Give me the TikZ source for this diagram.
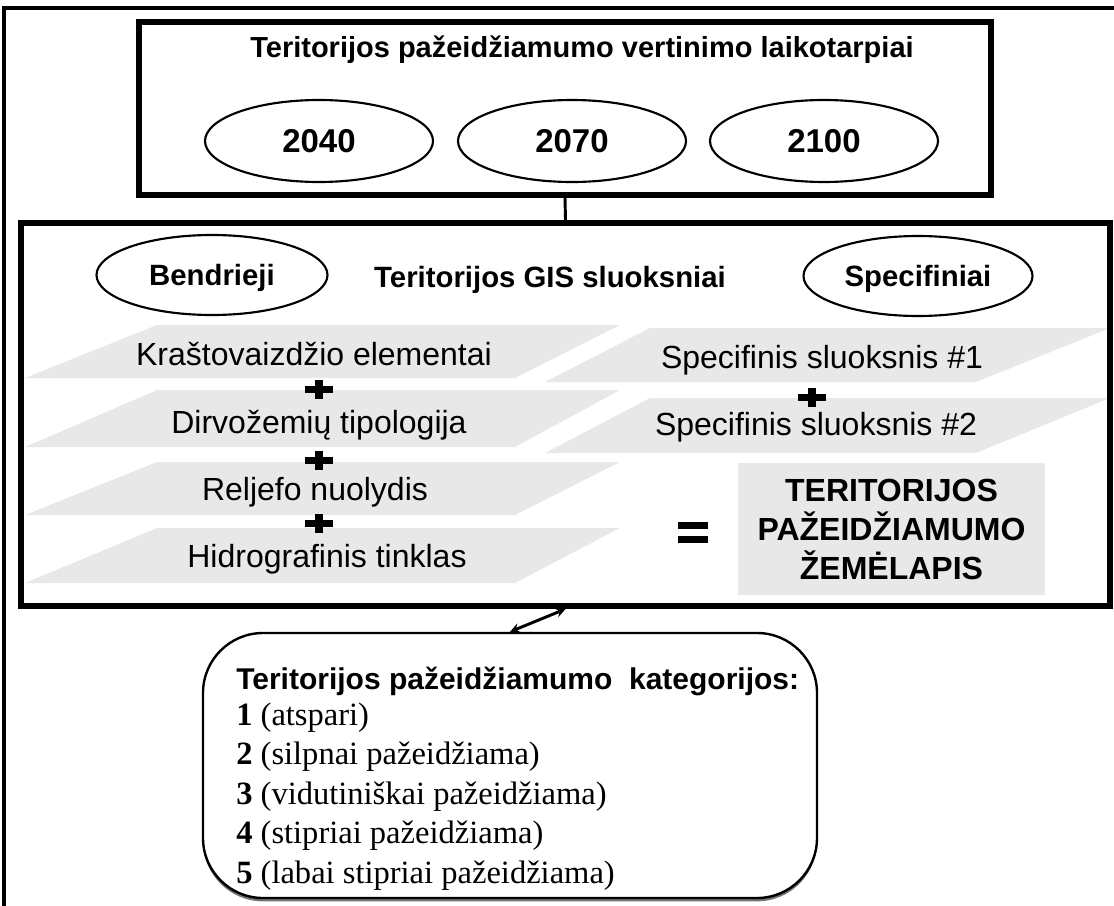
\documentclass[tikz,border=0pt]{standalone}
\usepackage{fontspec}
\setmainfont{Liberation Serif}
\setsansfont{Liberation Sans}
\usetikzlibrary{shapes.geometric,shadows}

\begin{document}
\begin{tikzpicture}[
  x=0.75pt, y=-0.75pt,
  font=\sffamily,
  outerline/.style={line width=2.4pt},
  bigbox/.style={rectangle, draw, line width=4.5pt},
  oval/.style={ellipse, draw, line width=1.6pt, inner sep=0pt, minimum width=171pt, minimum height=61.5pt, font=\sffamily\bfseries\fontsize{24.75pt}{28pt}\selectfont},
  smalloval/.style={oval, text depth=0pt, minimum height=60pt, font=\sffamily\bfseries\fontsize{22pt}{26pt}\selectfont},
  headtxt/.style={font=\sffamily\bfseries\fontsize{22pt}{26pt}\selectfont, inner sep=0pt, anchor=base},
  lbl/.style={font=\sffamily\fontsize{24pt}{28pt}\selectfont, inner sep=0pt, anchor=base},
  sheet/.style={fill=black!9},
  result/.style={rectangle, fill=black!9, minimum width=230.25pt, minimum height=99pt, align=center, font=\sffamily\bfseries\fontsize{24pt}{29.25pt}\selectfont},
  catbox/.style={rectangle, draw, rounded corners=45pt, line width=1.8pt, fill=white, minimum width=460.5pt, minimum height=198.75pt, drop shadow={shadow xshift=0pt, shadow yshift=-2.5pt, fill=black!55, opacity=1}}
]
\useasboundingbox (0,0) rectangle (1114,906);
\draw[outerline] (4,906) -- (4,8) -- (1114,8);

\node[bigbox, minimum width=639pt, minimum height=129.75pt] (periods) at (565,108.5) {};
\node[headtxt, font=\sffamily\bfseries\fontsize{21.75pt}{26pt}\selectfont] (ptitle) at (582,58) {Teritorijos pažeidžiamumo vertinimo laikotarpiai};
\node[oval] (y2040) at (319,141) {2040};
\node[oval] (y2070) at (572,141) {2070};
\node[oval] (y2100) at (824,141) {2100};

\foreach \t/\b in {325/378, 390/447, 462/515, 528/583}
  \fill[sheet] (25,\b) -- (157,\t) -- (620,\t) -- (515,\b) -- cycle;
\foreach \t/\b in {328/382, 398/453}
  \fill[sheet] (545,\b) -- (650,\t) -- (1110,\t) -- (976,\b) -- cycle;

\node[bigbox, minimum width=816.75pt, minimum height=287.25pt] (gis) at (565.5,414.5) {};
\node[smalloval, minimum width=173.25pt] (general) at (212,275) {Bendrieji};
\node[headtxt] (gistitle) at (550,287) {Teritorijos GIS sluoksniai};
\node[smalloval, minimum width=171.75pt] (specific) at (918,276) {Specifiniai};

\node[lbl] (landscape) at (314,365) {Kraštovaizdžio elementai};
\node[lbl] (soil) at (319,433) {Dirvožemių tipologija};
\node[lbl] (slope) at (315,500) {Reljefo nuolydis};
\node[lbl] (hydro) at (327,567) {Hidrografinis tinklas};
\node[lbl] (spec1) at (822,368) {Specifinis sluoksnis \#1};
\node[lbl] (spec2) at (816,435) {Specifinis sluoksnis \#2};

\foreach \px/\py in {319/389, 319/460, 319/523, 812/397} {
  \fill (\px-14,\py-3.5) rectangle (\px+14,\py+3.5);
  \fill (\px-4,\py-9.5) rectangle (\px+4,\py+9.5);
}
\fill (678,522) rectangle (708,529);
\fill (678,536) rectangle (708,543);

\node[result] (result) at (891.5,529) {TERITORIJOS\\PAŽEIDŽIAMUMO\\ŽEMĖLAPIS};

\draw[line width=2.2pt] (periods.south) -- (gis.north);

\node[catbox] (cats) at (510,765.5) {};
\node[anchor=north west, align=left, inner sep=0pt, font=\rmfamily\fontsize{24.4pt}{29.6pt}\selectfont] (catlist) at (236,667) {{\sffamily\bfseries\fontsize{22.5pt}{26pt}\selectfont Teritorijos pažeidžiamumo\ \ kategorijos:}\\[-3pt]
  \textbf{1} (atspari)\\
  \textbf{2} (silpnai pažeidžiama)\\
  \textbf{3} (vidutiniškai pažeidžiama)\\
  \textbf{4} (stipriai pažeidžiama)\\
  \textbf{5} (labai stipriai pažeidžiama)};

\draw[<->, >=stealth, line width=2.2pt] (cats.north) -- (gis.south);
\end{tikzpicture}
\end{document}
